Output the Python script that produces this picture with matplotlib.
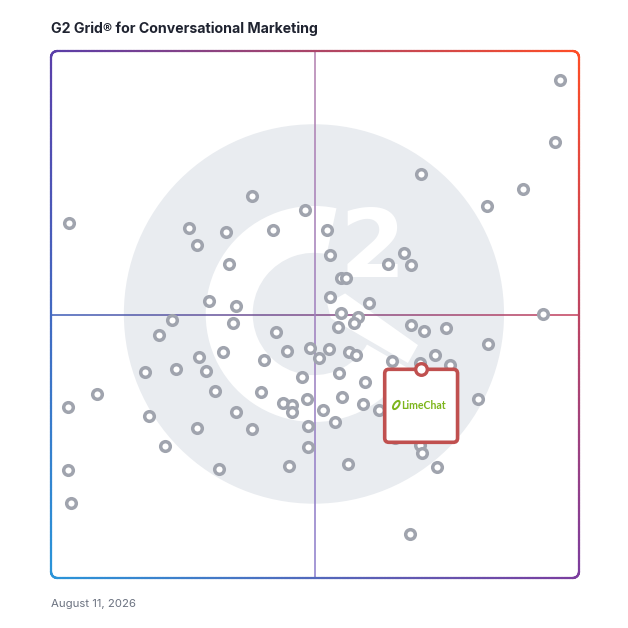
import numpy as np
import matplotlib.pyplot as plt
from matplotlib.collections import LineCollection
from matplotlib.patches import Circle, Wedge, Polygon, FancyBboxPatch, Ellipse
from matplotlib.colors import to_rgb

# products on the grid: x = market presence, y = satisfaction (0-100)
x_vals = [96.4, 95.5, 89.3, 82.5, 70.1, 3.5, 38.0, 48.2, 26.1, 33.2,
          42.1, 27.6, 33.8, 52.3, 52.9, 66.9, 63.8, 68.2, 54.9, 55.8,
          29.9, 35.1, 52.9, 60.2, 54.9, 58.2, 93.2, 22.9, 34.5, 57.3,
          54.4, 68.1, 70.7, 74.8, 20.5, 42.6, 82.7, 44.7, 49.1, 52.7,
          32.5, 56.5, 57.8, 28.1, 50.8, 40.4, 64.6, 69.9, 72.7, 75.6,
          23.7, 29.3, 17.8, 47.5, 54.5, 59.4, 8.7, 31.1, 39.7, 44.0,
          45.6, 45.6, 48.5, 55.1, 59.1, 3.3, 18.6, 35.0, 51.6, 62.2,
          80.8, 27.6, 38.0, 48.7, 53.7, 65.2, 21.6, 48.7, 69.9, 70.2,
          3.2, 31.9, 45.1, 56.2, 73.1, 3.7, 68.0]
y_vals = [94.5, 82.7, 73.9, 70.6, 76.7, 67.4, 72.5, 69.9, 66.5, 65.6,
          66.1, 63.1, 59.6, 66.0, 61.3, 61.7, 59.6, 59.4, 56.9, 57.0,
          52.6, 51.7, 53.3, 52.2, 50.2, 49.5, 50.1, 49.0, 48.3, 48.3,
          47.6, 48.0, 46.9, 47.5, 46.2, 46.6, 44.4, 43.1, 43.6, 43.4,
          42.9, 42.8, 42.3, 42.0, 41.8, 41.4, 41.1, 40.8, 42.4, 40.4,
          39.6, 39.3, 39.0, 38.1, 38.9, 37.2, 34.9, 35.5, 35.2, 33.3,
          32.8, 31.5, 34.0, 34.3, 33.0, 32.5, 30.8, 31.5, 31.9, 31.8,
          33.9, 28.4, 28.2, 28.9, 29.6, 26.5, 25.1, 24.9, 25.2, 23.8,
          20.4, 20.6, 21.2, 21.6, 21.0, 14.3, 8.3]

highlight_name = "LimeChat"
highlight_x = 70.1
highlight_y = 39.6

title = "G2 Grid\u00ae for Conversational Marketing"
date_text = "August 11, 2026"

# corner colours of the gradient frame
c_tl = np.array(to_rgb("#5a3ea9"))
c_tr = np.array(to_rgb("#ff4d26"))
c_bl = np.array(to_rgb("#2a95d9"))
c_br = np.array(to_rgb("#7b3d9f"))


def frame_color(u, v):
    top = c_tl * (1 - u) + c_tr * u
    bot = c_bl * (1 - u) + c_br * u
    return np.clip(bot * (1 - v) + top * v, 0, 1)


def rounded_rect(r):
    pts = []
    corners = [((100 - r, 100 - r), 0, 90), ((r, 100 - r), 90, 180),
               ((r, r), 180, 270), ((100 - r, r), 270, 360)]
    for (cx, cy), a0, a1 in corners:
        t = np.radians(np.linspace(a0, a1, 12))
        pts.append(np.column_stack([cx + r * np.cos(t), cy + r * np.sin(t)]))
    pts = np.vstack(pts + [pts[0][:1]])
    dense = []
    for a, b in zip(pts[:-1], pts[1:]):
        k = max(2, int(np.hypot(*(b - a)) * 2))
        dense.append(np.linspace(a, b, k, endpoint=False))
    dense.append(pts[-1:])
    return np.vstack(dense)


fig = plt.figure(figsize=(6.28, 6.28), dpi=100)
ax = fig.add_axes([51 / 628, 50 / 628, 528 / 628, 527 / 628])
ax.set_xlim(0, 100)
ax.set_ylim(0, 100)
ax.axis('off')

# faint G2 logo in the background
logo_c = (49.8, 50.1)
ax.add_patch(Circle(logo_c, 36.0, color="#e9ecf0", zorder=0, lw=0))
ax.add_patch(Wedge(logo_c, 20.5, 78, 330, width=8.9, color="white", zorder=0.5, lw=0))
ax.add_patch(Polygon([(52.3, 52.1), (55.7, 54.0), (69.5, 44.2), (67.6, 40.8), (53.0, 49.3)],
                     closed=True, color="white", zorder=0.5, lw=0))
ax.text(60.8, 62.0, "2", color="white", fontsize=68, fontweight="bold",
        ha="center", va="center", zorder=0.6)

# quadrant lines
n = 200
t = np.linspace(0, 100, n)
seg_h = np.array([[[t[i], 50], [t[i + 1], 50]] for i in range(n - 1)])
col_h = [np.array(to_rgb("#3b5cb8")) * (1 - s) + np.array(to_rgb("#c43e5a")) * s
         for s in np.linspace(0, 1, n - 1)]
ax.add_collection(LineCollection(seg_h, colors=col_h, linewidths=1.1, zorder=1))
seg_v = np.array([[[50, t[i]], [50, t[i + 1]]] for i in range(n - 1)])
col_v = [np.array(to_rgb("#8a7ccb")) * (1 - s) + np.array(to_rgb("#b27fae")) * s
         for s in np.linspace(0, 1, n - 1)]
ax.add_collection(LineCollection(seg_v, colors=col_v, linewidths=1.1, zorder=1))

# gradient frame
path = rounded_rect(1.2)
segs = np.stack([path[:-1], path[1:]], axis=1)
mids = (path[:-1] + path[1:]) / 2
cols = [frame_color(mx / 100, my / 100) for mx, my in mids]
ax.add_collection(LineCollection(segs, colors=cols, linewidths=1.6, zorder=3,
                                 capstyle="round", clip_on=False))

# product dots
ax.scatter(x_vals, y_vals, s=48, facecolor="white", edgecolor="#a0a4ae",
           linewidths=2.5, zorder=2)

# highlighted product card
bw, bh = 13.8, 13.85
box = FancyBboxPatch((highlight_x - bw / 2, highlight_y - bh), bw, bh,
                     boxstyle="round,pad=0,rounding_size=0.8",
                     facecolor="white", edgecolor="#c0504f", lw=2.6, zorder=4)
ax.add_patch(box)
ax.scatter([highlight_x], [highlight_y], s=70, facecolor="white",
           edgecolor="#c0504f", linewidths=2.4, zorder=5)
ax.add_patch(Ellipse((highlight_x - 4.7, highlight_y - bh / 2 + 0.15), 0.9, 1.8, angle=-35,
                     facecolor="none", edgecolor="#7db51c", lw=1.4, zorder=5))
ax.text(highlight_x + 0.4, highlight_y - bh / 2 + 0.1, highlight_name, color="#7db51c",
        fontsize=7.6, fontweight="bold", family="Lato", ha="center", va="center", zorder=5)

fig.text(51 / 628, 1 - 29 / 628, title, fontsize=10.2, fontweight="bold", family="Inter",
         color="#1f2330", ha="left", va="center")
fig.text(51 / 628, 1 - 604 / 628, date_text, fontsize=8.2, family="Inter",
         color="#6b7280", ha="left", va="center")

fig.savefig("out.png", dpi=100, facecolor="white")
